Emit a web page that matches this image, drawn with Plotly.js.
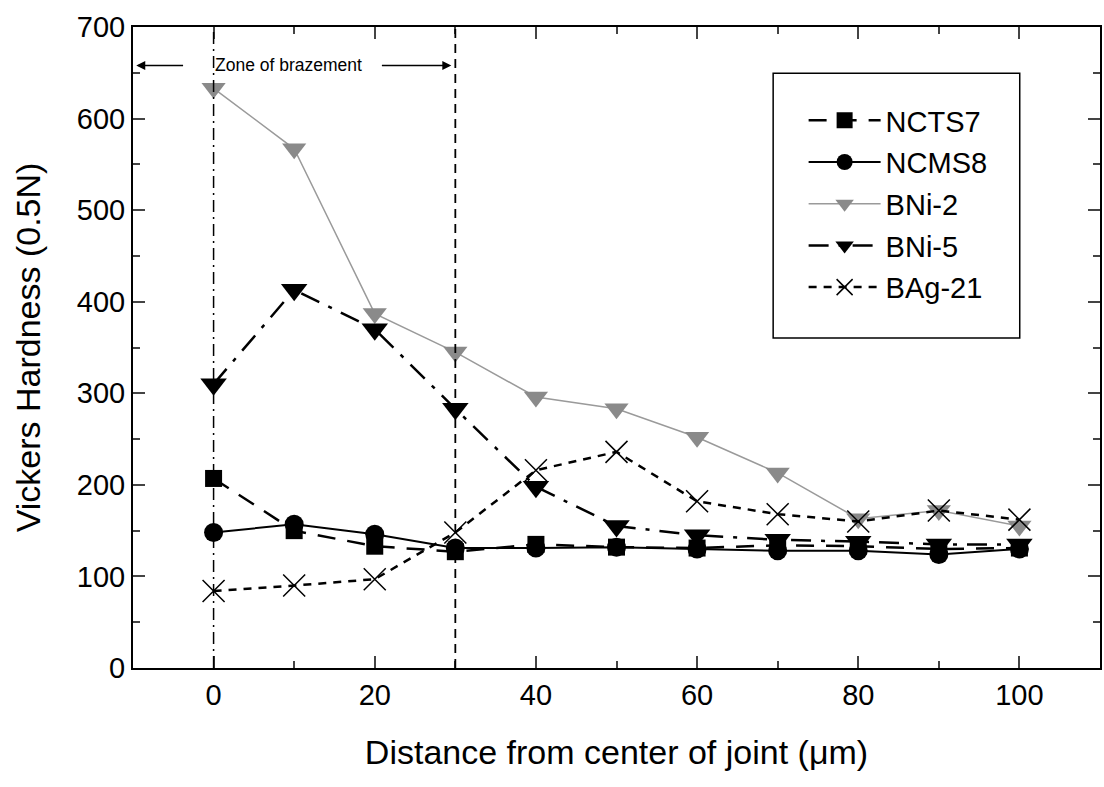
<!DOCTYPE html>
<html>
<head>
<meta charset="utf-8">
<script src="https://cdn.plot.ly/plotly-3.0.1.min.js"></script>
<style>html,body{margin:0;padding:0;background:#fff;}#chart{width:1104px;height:787px;}</style>
</head>
<body>
<div id="chart"></div>
<script>
// ---- data ----
const distance = [0, 10, 20, 30, 40, 50, 60, 70, 80, 90, 100];
const NCTS7  = [207, 150, 133, 127, 135, 132, 131, 134, 133, 130, 131];
const NCMS8  = [148, 157, 146, 131, 131, 132, 130, 128, 128, 124, 130];
const BNi2   = [633, 567, 387, 345, 296, 283, 252, 213, 163, 172, 155];
const BNi5   = [310, 413, 370, 283, 198, 155, 145, 140, 138, 135, 135];
const BAg21  = [84, 90, 97, 148, 216, 236, 182, 168, 160, 172, 162];
const seriesNames = ["NCTS7", "NCMS8", "BNi-2", "BNi-5", "BAg-21"];
const zoneStart = 0, zoneEnd = 30;
const zoneLabel = "Zone of brazement";
const zoneLabelY = 658;
const xTitle = "Distance from center of joint (μm)";
const yTitle = "Vickers Hardness (0.5N)";

const FONT = "Liberation Sans, Arial, Helvetica, sans-serif";

const traces = [
  {x: distance, y: NCTS7, name: seriesNames[0], legendgroup: "a", mode: "lines+markers",
   line: {color: "#000", width: 2.5, dash: "18px,12px"},
   marker: {symbol: "square", size: 17, color: "#000"}},
  {x: distance, y: NCMS8, name: seriesNames[1], legendgroup: "b", mode: "lines+markers",
   line: {color: "#000", width: 2}, marker: {symbol: "circle", size: 19, color: "#000"}},
  {x: distance, y: BNi2, name: seriesNames[2], legendgroup: "c", mode: "lines+markers",
   line: {color: "#9a9a9a", width: 1.5}, marker: {symbol: "triangle-down", size: 21, color: "#8a8a8a"}},
  {x: distance, y: BNi5, name: seriesNames[3], legendgroup: "d", mode: "lines+markers",
   line: {color: "#000", width: 2.5, dash: "20px,10px,4px,10px"},
   marker: {symbol: "triangle-down", size: 23, color: "#000"}},
  {x: distance, y: BAg21, name: seriesNames[4], legendgroup: "e", mode: "lines+markers",
   line: {color: "#000", width: 2.5, dash: "8px,7px"},
   marker: {symbol: "x-thin-open", size: 22, color: "#000", line: {width: 1.5, color: "#000"}}}
];

const layout = {
  width: 1104, height: 787,
  margin: {l: 133, r: 4, t: 27, b: 119},
  paper_bgcolor: "#fff", plot_bgcolor: "#fff",
  font: {family: FONT, color: "#000", size: 29},
  showlegend: true,
  legend: {x: 0.6935, y: 0.894, xanchor: "left", yanchor: "top", itemwidth: 72,
           bgcolor: "rgba(0,0,0,0)", borderwidth: 0, tracegroupgap: 1,
           font: {family: FONT, size: 29, color: "#000"}},
  xaxis: {range: [-10, 110], dtick: 20, tick0: 0, ticks: "inside", ticklen: 12, tickwidth: 2,
          showline: true, linewidth: 2, linecolor: "#000", mirror: "ticks", showgrid: false, zeroline: false,
          minor: {dtick: 10, ticks: "inside", ticklen: 7, tickwidth: 2, showgrid: false},
          tickfont: {size: 29, family: FONT},
          title: {text: xTitle, font: {size: 34, family: FONT}, standoff: 30}},
  yaxis: {range: [0, 700], dtick: 100, ticks: "inside", ticklen: 12, tickwidth: 2,
          showline: true, linewidth: 2, linecolor: "#000", mirror: "ticks", showgrid: false, zeroline: false,
          minor: {dtick: 50, ticks: "inside", ticklen: 7, tickwidth: 2, showgrid: false},
          tickfont: {size: 29, family: FONT},
          title: {text: yTitle, font: {size: 34, family: FONT}, standoff: 26}},
  shapes: [
    {type: "line", xref: "x", yref: "paper", x0: zoneStart, x1: zoneStart, y0: 0, y1: 1,
     line: {color: "#000", width: 1.5, dash: "12px,5px,2px,5px"}},
    {type: "line", xref: "x", yref: "paper", x0: zoneEnd, x1: zoneEnd, y0: 0, y1: 1,
     line: {color: "#000", width: 1.8, dash: "9px,6px"}},
    {type: "rect", xref: "paper", yref: "paper", x0: 0.662, x1: 0.917, y0: 0.515, y1: 0.928,
     line: {color: "#000", width: 1.5}, fillcolor: "rgba(0,0,0,0)"}
  ],
  annotations: [
    {x: (zoneStart + zoneEnd) / 2 - 5.7, y: zoneLabelY, xref: "x", yref: "y", text: zoneLabel,
     showarrow: false, font: {size: 17.5, family: FONT, color: "#000"}},
    {x: zoneStart - 9.6, y: zoneLabelY, ax: zoneStart - 3.6, ay: zoneLabelY, xref: "x", yref: "y",
     axref: "x", ayref: "y", text: "", showarrow: true, arrowhead: 2, arrowsize: 1.2, arrowwidth: 1.5, arrowcolor: "#000"},
    {x: zoneEnd - 0.5, y: zoneLabelY, ax: zoneEnd - 9.3, ay: zoneLabelY, xref: "x", yref: "y",
     axref: "x", ayref: "y", text: "", showarrow: true, arrowhead: 2, arrowsize: 1.2, arrowwidth: 1.5, arrowcolor: "#000"}
  ]
};

Plotly.newPlot("chart", traces, layout, {displayModeBar: false, staticPlot: true});
</script>
</body>
</html>
